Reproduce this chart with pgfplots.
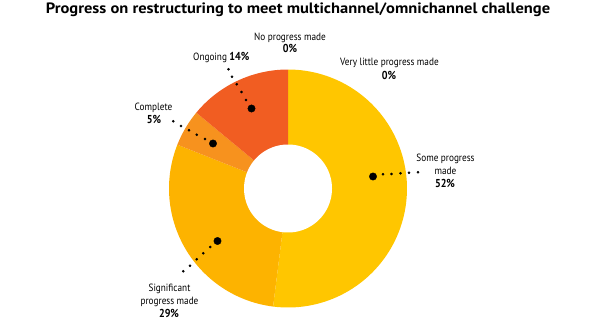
\documentclass[border=0pt]{standalone}
\usepackage{pgfplots}
\pgfplotsset{compat=1.18}
\usepackage{fontspec}
\setmainfont{PT Sans}
\newfontfamily\lab[FakeStretch=0.88]{PT Sans}
\newfontfamily\ttl[FakeStretch=1.1]{PT Sans}
\definecolor{cSome}{HTML}{FFC600}
\definecolor{cSig}{HTML}{FDB300}
\definecolor{cComp}{HTML}{F7921E}
\definecolor{cOng}{HTML}{F15D22}
\begin{document}
\begin{tikzpicture}
\begin{axis}[width=600pt,height=325pt,scale only axis,
  xmin=0,xmax=600,ymin=0,ymax=325,hide axis,clip=false]
% shares (percent): Some progress 52, Significant 29, Complete 5, Ongoing 14, No progress 0, Very little 0
% donut centre (288,136.5), outer radius 119, inner radius 44; slices clockwise from top
\addplot[fill=cSome,draw=none,domain=90-3.6*52:90,samples=90]
  ({288+119*cos(x)},{136.5+119*sin(x)}) -- (axis cs:288,136.5) -- cycle;
\addplot[fill=cSig,draw=none,domain=90-3.6*81:90-3.6*52,samples=60]
  ({288+119*cos(x)},{136.5+119*sin(x)}) -- (axis cs:288,136.5) -- cycle;
\addplot[fill=cComp,draw=none,domain=90-3.6*86:90-3.6*81,samples=20]
  ({288+119*cos(x)},{136.5+119*sin(x)}) -- (axis cs:288,136.5) -- cycle;
\addplot[fill=cOng,draw=none,domain=90-3.6*100:90-3.6*86,samples=40]
  ({288+119*cos(x)},{136.5+119*sin(x)}) -- (axis cs:288,136.5) -- cycle;
\addplot[fill=white,draw=none,domain=0:360,samples=120]
  ({288+44*cos(x)},{136.5+44*sin(x)}) -- cycle;
% leader dots
\addplot[only marks,mark=*,mark size=3.7pt,black] coordinates {
  (373,148.5) (251.5,216.5) (213,181.5) (217.5,84)};
\addplot[only marks,mark=*,mark size=1.1pt,black] coordinates {
  (383,150.7) (391.5,151) (400.5,151.7) (409,152.3) (418,152.7)
  (246,225) (241.5,233) (236.8,240.7) (232,248.3) (228.5,255.7)
  (205,186) (196.8,190.3) (189,194.7) (181,199) (173.3,203.7)
  (210.3,78) (203.3,71.7) (196.7,65.7) (190,59.3) (183.3,53.7)};
% title
\node[anchor=base,font=\ttl\bfseries\fontsize{15}{18}\selectfont] at (axis cs:298,311.5)
  {Progress on restructuring to meet multichannel/omnichannel challenge};
% labels
\node[anchor=base,font=\lab\fontsize{10.5}{12}\selectfont] at (axis cs:290,285) {No progress made};
\node[anchor=base,font=\lab\bfseries\fontsize{11.5}{12}\selectfont] at (axis cs:290,273) {0\%};
\node[anchor=base,font=\lab\fontsize{10.5}{12}\selectfont] at (axis cs:389.5,259.3) {Very little progress made};
\node[anchor=base,font=\lab\bfseries\fontsize{11.5}{12}\selectfont] at (axis cs:389,246) {0\%};
\node[anchor=base west,inner xsep=0pt,font=\lab\fontsize{10.5}{12}\selectfont] at (axis cs:193,264.3) {Ongoing {\fontsize{11.5}{12}\selectfont\bfseries 14\%}};
\node[anchor=base,font=\lab\fontsize{10.5}{12}\selectfont] at (axis cs:153.5,214.3) {Complete};
\node[anchor=base,font=\lab\bfseries\fontsize{11.5}{12}\selectfont] at (axis cs:154,201.7) {5\%};
\node[anchor=base,font=\lab\fontsize{10.5}{12}\selectfont] at (axis cs:445.5,163.3) {Some progress};
\node[anchor=base,font=\lab\fontsize{10.5}{12}\selectfont] at (axis cs:445.5,150.7) {made};
\node[anchor=base,font=\lab\bfseries\fontsize{11.5}{12}\selectfont] at (axis cs:445,137.3) {52\%};
\node[anchor=base,font=\lab\fontsize{10.5}{12}\selectfont] at (axis cs:169.5,33.3) {Significant};
\node[anchor=base,font=\lab\fontsize{10.5}{12}\selectfont] at (axis cs:169.5,20.7) {progress made};
\node[anchor=base,font=\lab\bfseries\fontsize{11.5}{12}\selectfont] at (axis cs:169,7.3) {29\%};
\end{axis}
\pgfresetboundingbox
\useasboundingbox (current axis.south west) rectangle (current axis.north east);
\end{tikzpicture}
\end{document}
